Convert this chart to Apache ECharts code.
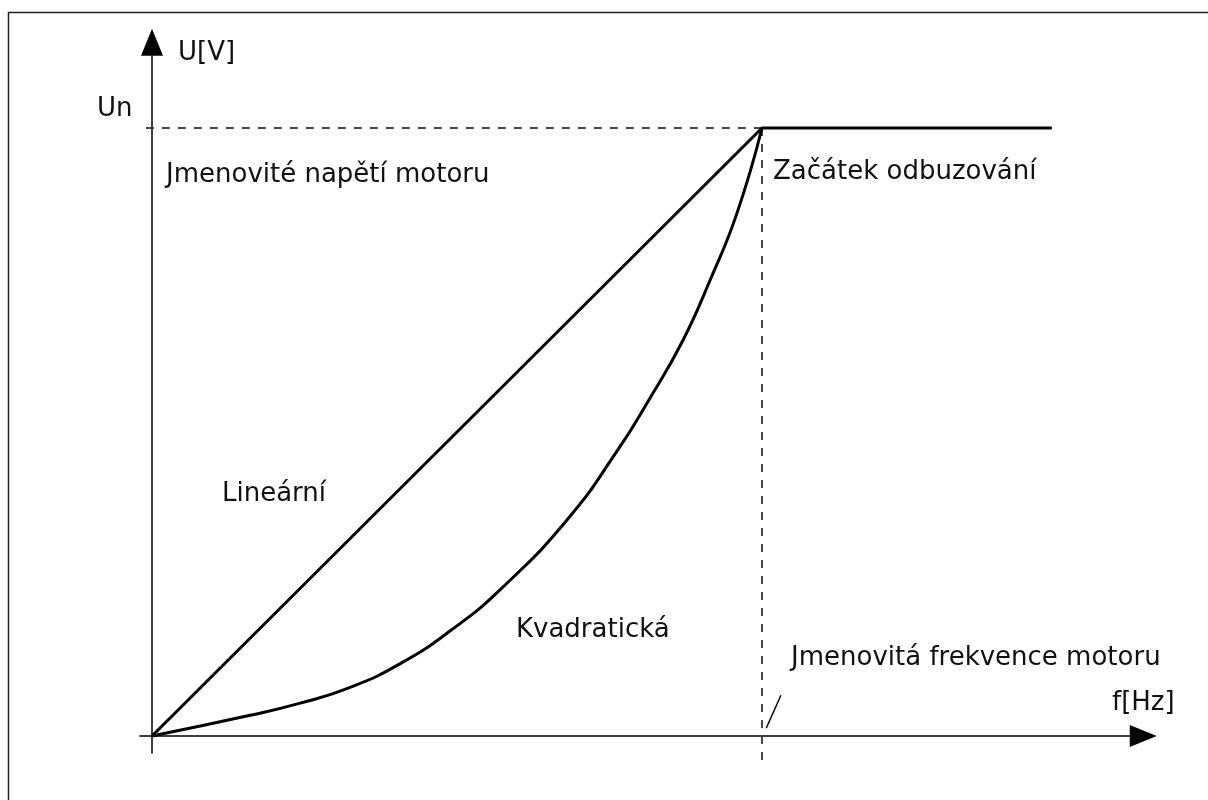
<!DOCTYPE html>
<html>
<head>
<meta charset="utf-8">
<script src="https://cdn.jsdelivr.net/npm/echarts@6/dist/echarts.min.js"></script>
<style>
html,body{margin:0;padding:0;background:#fff;}
#chart{width:1208px;height:800px;}
</style>
</head>
<body>
<div id="chart"></div>
<script>
// Data (x: frequency as % of nominal, y: voltage as % of Un)
const linearCurve = [[0, 0], [100, 100], [147.5, 100]];
const quadraticCurve = [
  [0, 0], [16.1, 3.4], [24.3, 5.4], [32.5, 8.0], [40.7, 11.9], [48.9, 17.3],
  [57.0, 24.0], [68.0, 35.5], [76.2, 46.8], [81.6, 55.5], [87.0, 65.0],
  [91.5, 75.0], [95.9, 86.0], [100, 100]
];
const nominalU = 100;
const nominalF = 100;
const unGuide = [[-1, 100], [100, 100]];
const fnGuide = [[100, 100], [100, -4.4]];
const slashMark = [[100.7, 1.3], [103.1, 6.7]];
const labels = {
  yAxis: 'U[V]', xAxis: 'f[Hz]', un: 'Un',
  unText: 'Jmenovité napětí motoru', fwText: 'Začátek odbuzování',
  fnText: 'Jmenovitá frekvence motoru', lin: 'Lineární', quad: 'Kvadratická'
};

const FONT = '"DejaVu Sans", Verdana, sans-serif';
const FS = 26;
const TXT = '#111';

function txt(x, y, s) {
  return { type: 'text', x: x, y: y, silent: true,
    style: { text: s, font: FS + 'px ' + FONT, fill: TXT, verticalAlign: 'middle', align: 'left' } };
}

const chart = echarts.init(document.getElementById('chart'), null, { renderer: 'canvas' });

const xMin = -2, xMax = 162.5, yMin = -2.8, yMax = 114.1;
const pxPerX = 6.1, pxPerY = 6.08;
const gridLeft = 152 + xMin * pxPerX;
const gridTop = 736 - yMax * pxPerY;

const axisLine = {
  show: true, onZero: true,
  symbol: ['none', 'triangle'], symbolSize: [22, 27],
  lineStyle: { color: '#000', width: 1.5 }
};
const dashStyle = { color: '#333', width: 1.8, type: [8, 8] };

chart.setOption({
  animation: false,
  backgroundColor: '#fff',
  grid: {
    left: gridLeft, top: gridTop,
    width: (xMax - xMin) * pxPerX, height: (yMax - yMin) * pxPerY,
    containLabel: false
  },
  xAxis: {
    type: 'value', min: xMin, max: xMax,
    axisLine: axisLine, axisTick: { show: false }, axisLabel: { show: false },
    splitLine: { show: false }
  },
  yAxis: {
    type: 'value', min: yMin, max: yMax,
    axisLine: axisLine, axisTick: { show: false }, axisLabel: { show: false },
    splitLine: { show: false }
  },
  series: [
    { type: 'line', data: unGuide, symbol: 'none', silent: true, clip: false,
      lineStyle: dashStyle, z: 1 },
    { type: 'line', data: fnGuide, symbol: 'none', silent: true, clip: false,
      lineStyle: dashStyle, z: 1 },
    {
      type: 'line', data: linearCurve, symbol: 'none', silent: true, clip: false,
      lineStyle: { color: '#000', width: 3 }, z: 3
    },
    {
      type: 'line', data: quadraticCurve, symbol: 'none', silent: true,
      smooth: 0.5,
      lineStyle: { color: '#000', width: 3 }, z: 3
    },
    {
      type: 'line', data: slashMark, symbol: 'none', silent: true,
      lineStyle: { color: '#000', width: 1.4 }
    }
  ],
  graphic: [
    { type: 'rect', silent: true, shape: { x: 8.5, y: 12.5, width: 1400, height: 1000 },
      style: { fill: 'none', stroke: '#222', lineWidth: 1.5 } },
    txt(178, 53, labels.yAxis),
    txt(97, 109, labels.un),
    txt(166, 175, labels.unText),
    txt(773, 172, labels.fwText),
    txt(222, 494, labels.lin),
    txt(516, 630, labels.quad),
    txt(791, 658, labels.fnText),
    txt(1112, 703, labels.xAxis)
  ]
});
</script>
</body>
</html>
